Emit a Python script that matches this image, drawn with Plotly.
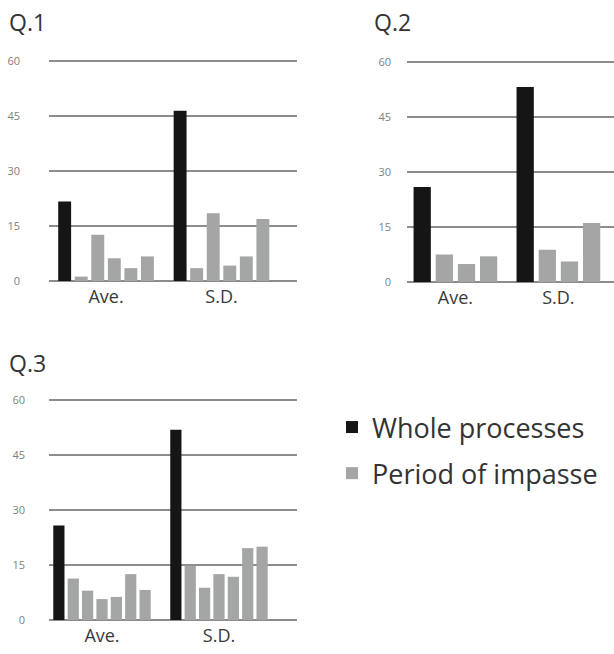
import plotly.graph_objects as go

categories = ["Ave.", "S.D."]
tick_values = [0, 15, 30, 45, 60]
tick_labels = ["0", "15", "30", "45", "60"]

legend_names = ["Whole processes", "Period of impasse"]
panel_titles = ["Q.1", "Q.2", "Q.3"]

# Q.1
q1_whole = [21.7, 46.4]
q1_impasse = [[1.2, 3.5], [12.6, 18.5], [6.2, 4.2], [3.5, 6.7], [6.7, 16.9]]
# Q.2
q2_whole = [25.9, 53.2]
q2_impasse = [[7.5, 8.8], [4.9, 5.6], [7.0, 16.1]]
# Q.3
q3_whole = [25.8, 51.9]
q3_impasse = [[11.3, 14.8], [8.0, 8.8], [5.7, 12.5], [6.3, 11.8], [12.5, 19.6], [8.2, 20.0]]

BLACK = "#151515"
GRAY = "#a3a6a5"
W, H = 614, 654
YTOP = 61.0  # y range top (a hair above 60 so the 60 grid line is drawn)

panels = [
    dict(whole=q1_whole, imp=q1_impasse, px=(49, 297), py=(61, 281), xr=[-0.494, 1.654], stand=28, title_xy=(7, 22)),
    dict(whole=q2_whole, imp=q2_impasse, px=(407, 614), py=(62, 282), xr=[-0.47, 1.54], stand=15, title_xy=(372, 22)),
    dict(whole=q3_whole, imp=q3_impasse, px=(49, 297), py=(400, 620), xr=[-0.453, 1.667], stand=23, title_xy=(7, 363)),
]

fig = go.Figure()
annotations = []
shown = {"w": False, "i": False}
for k, p in enumerate(panels):
    sfx = "" if k == 0 else str(k + 1)
    xa, ya = "x" + sfx, "y" + sfx
    fig.add_trace(go.Bar(
        x=categories, y=p["whole"], xaxis=xa, yaxis=ya,
        marker=dict(color=BLACK, line=dict(width=0)),
        name=legend_names[0], legendgroup="whole", showlegend=not shown["w"],
        offsetgroup=f"{k}_0",
    ))
    shown["w"] = True
    for j, vals in enumerate(p["imp"]):
        fig.add_trace(go.Bar(
            x=categories, y=vals, xaxis=xa, yaxis=ya,
            marker=dict(color=GRAY, line=dict(width=0)),
            name=legend_names[1], legendgroup="impasse", showlegend=not shown["i"],
            offsetgroup=f"{k}_{j+1}",
        ))
        shown["i"] = True
    x0, x1 = p["px"]
    y0, y1 = p["py"]
    # extend the domain top so that value 60 sits at y0
    y_top_px = y1 - (y1 - y0) * YTOP / 60.0
    fig.layout["xaxis" + sfx] = dict(
        domain=[x0 / W, x1 / W], range=p["xr"], anchor=ya,
        showgrid=False, zeroline=False, showline=False, ticks="",
        tickfont=dict(family="Open Sans", size=18, color="#3a3a3a"),
        ticklabelstandoff=3, fixedrange=True, automargin=False,
    )
    fig.layout["yaxis" + sfx] = dict(
        domain=[1 - y1 / H, 1 - y_top_px / H], range=[0, YTOP], anchor=xa,
        tickvals=tick_values, ticktext=tick_labels,
        showgrid=True, gridcolor="#8c8c8c", gridwidth=1.9,
        zeroline=True, zerolinecolor="#8c8c8c", zerolinewidth=1.9,
        showline=False, ticks="",
        tickfont=dict(family="Open Sans", size=11, color="#808080"),
        ticklabelstandoff=p["stand"], fixedrange=True, automargin=False,
    )
    tx, ty = p["title_xy"]
    annotations.append(dict(
        text=panel_titles[k], x=tx / W, y=1 - ty / H, xref="paper", yref="paper",
        xanchor="left", yanchor="middle", showarrow=False,
        font=dict(family="Open Sans", size=23, color="#333333"),
    ))

fig.update_layout(
    width=W, height=H, margin=dict(l=0, r=0, t=0, b=0, autoexpand=False),
    paper_bgcolor="white", plot_bgcolor="white",
    barmode="group", bargap=0.14, bargroupgap=0.22,
    annotations=annotations,
    legend=dict(
        x=332 / W, y=1 - 403 / H, xanchor="left", yanchor="top",
        font=dict(family="Open Sans", size=27, color="#333333"),
        tracegroupgap=8, itemwidth=30, bgcolor="rgba(0,0,0,0)",
    ),
    showlegend=True,
)

fig.write_html("out.html", config={"displayModeBar": False},
               post_script="document.body.style.margin='0';")
